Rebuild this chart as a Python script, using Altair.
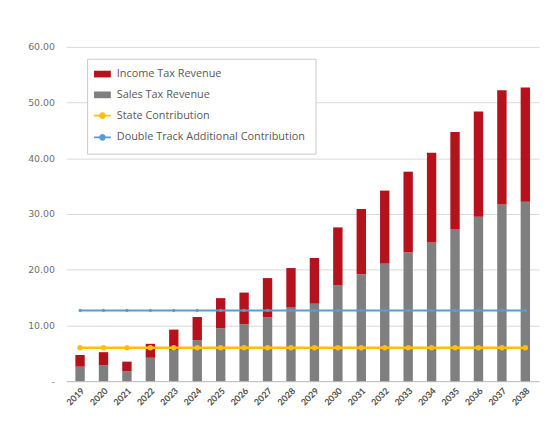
import altair as alt
import pandas as pd

years = [str(y) for y in range(2019, 2039)]
sales_tax = [2.6, 2.85, 1.8, 4.2, 5.6, 7.35, 9.5, 10.2, 11.5, 13.2, 13.9, 17.2,
             19.2, 21.1, 23.1, 24.9, 27.3, 29.5, 31.7, 32.2]
income_tax = [2.1, 2.35, 1.7, 2.5, 3.65, 4.15, 5.4, 5.7, 7.0, 7.1, 8.2, 10.4,
              11.7, 13.1, 14.5, 16.1, 17.4, 18.9, 20.5, 20.5]
state_contribution = [6.0] * 20
double_track = [12.7] * 20

series_names = ["Income Tax Revenue", "Sales Tax Revenue", "State Contribution",
                "Double Track Additional Contribution"]
series_colors = ["#b5121b", "#7f7f7f", "#ffc000", "#5b9bd5"]
y_ticks = [0, 10, 20, 30, 40, 50, 60]

bars = pd.DataFrame(
    [{"year": y, "series": series_names[1], "value": v, "ord": 0} for y, v in zip(years, sales_tax)]
    + [{"year": y, "series": series_names[0], "value": v, "ord": 1} for y, v in zip(years, income_tax)]
)
state_df = pd.DataFrame({"year": years, "series": series_names[2], "value": state_contribution})
track_df = pd.DataFrame({"year": years, "series": series_names[3], "value": double_track})

FONT = "Lato"
line_test = "(datum.label == 'State Contribution' || datum.label == 'Double Track Additional Contribution')"

color = alt.Color(
    "series:N",
    scale=alt.Scale(domain=series_names, range=series_colors),
    legend=alt.Legend(
        orient="none", legendX=21, legendY=12, title=None,
        fillColor="white", strokeColor="#c8c8c8", padding=10,
        labelFont="Open Sans", labelFontSize=11, labelColor="#595959", labelOffset=9,
        labelLimit=400,
        rowPadding=9, symbolSize=289,
        symbolType={"expr": line_test + " ? 'M-1,0H1M-0.3,0A0.3,0.3,0,1,1,0.3,0A0.3,0.3,0,1,1,-0.3,0Z' : 'M-1,-0.4H1V0.4H-1Z'"},
        symbolStrokeColor={"expr": "scale('color', datum.value)"},
        symbolFillColor={"expr": "scale('color', datum.value)"},
        symbolStrokeWidth={"expr": line_test + " ? 1.6 : 0"},
    ),
)

x = alt.X(
    "year:O", title=None, sort=years,
    scale=alt.Scale(paddingInner=0.6, paddingOuter=0.385),
    axis=alt.Axis(labelAngle=-45, labelFont=FONT, labelFontSize=9, labelFontWeight="bold",
                  labelColor="#505050", ticks=False, labelPadding=5,
                  domainColor="#bfbfbf", domainWidth=1),
)
y_axis = alt.Axis(values=y_ticks, labelExpr="datum.value == 0 ? '-' : format(datum.value, '.2f')",
                  labelFont="DejaVu Sans", labelFontSize=9.5, labelColor="#707070", ticks=False,
                  tickSize=0, labelPadding=12, domain=False, gridColor="#d9d9d9", title=None)

bar_layer = alt.Chart(bars).mark_bar().encode(
    x=x,
    y=alt.Y("value:Q", stack="zero", scale=alt.Scale(domain=[0, 60]), axis=y_axis),
    color=color,
    order=alt.Order("ord:Q"),
)

track_layer = alt.Chart(track_df).mark_line(
    strokeWidth=2, point=alt.OverlayMarkDef(filled=True, size=10, color="#41719c")
).encode(x=x, y=alt.Y("value:Q"), color=color)

state_layer = alt.Chart(state_df).mark_line(
    strokeWidth=2.6, point=alt.OverlayMarkDef(filled=True, size=30)
).encode(x=x, y=alt.Y("value:Q"), color=color)

chart = alt.layer(bar_layer, track_layer, state_layer).properties(
    width=478, height=338,
    autosize=alt.AutoSizeParams(type="none"),
    padding={"left": 59, "top": 37, "right": 5, "bottom": 40},
    background="white",
).configure_view(stroke=None)

chart.save("out.html", embed_options={"renderer": "svg", "actions": False})
